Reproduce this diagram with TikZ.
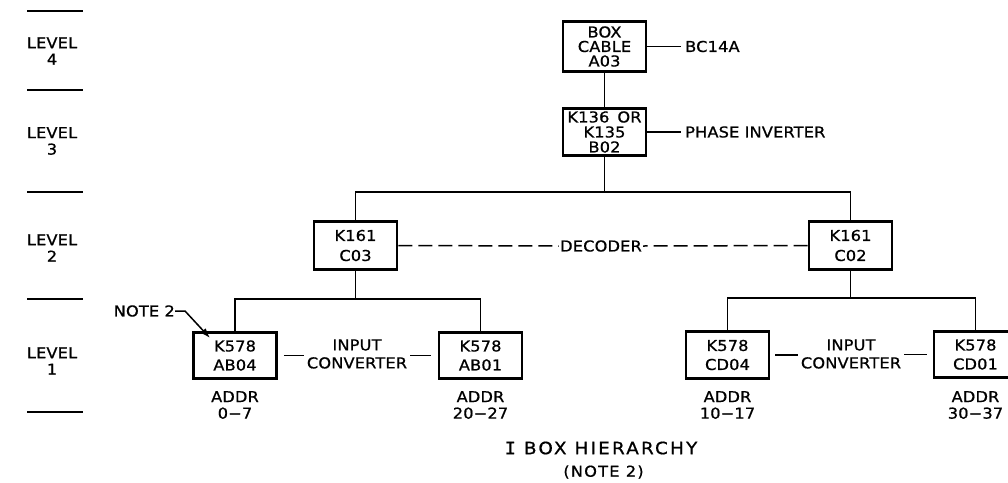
\documentclass[tikz,border=0pt]{standalone}
\usepackage{fontspec}
\setmainfont{DejaVu Sans}[FakeStretch=1.08,LetterSpace=1,FakeBold=0.8]
\newfontfamily\titlefont{DejaVu Sans}[FakeStretch=1.08,LetterSpace=13,FakeBold=0.8]
\newfontfamily\serifI{DejaVu Sans Mono}[FakeStretch=1.1,FakeBold=0.8]
\usetikzlibrary{arrows.meta}
\begin{document}
\begin{tikzpicture}[x=1pt,y=-1pt,
  every node/.style={font=\fontsize{15}{16.5}\selectfont, inner sep=0pt},
  box/.style={draw, line width=2.8pt, minimum width=83pt, align=center},
  lvfour/.style={box, minimum height=50.5pt, font=\fontsize{15}{14.5}\selectfont},
  lvthree/.style={box, minimum height=47.5pt, font=\fontsize{15}{15}\selectfont},
  lvtwo/.style={box, minimum height=48.5pt, font=\fontsize{15}{20}\selectfont},
  lvone/.style={box, minimum height=46.5pt, font=\fontsize{15}{19}\selectfont},
  conn/.style={line width=1.5pt},
  sepline/.style={line width=2pt},
  lvlabel/.style={align=center, font=\fontsize{15}{16.5}\selectfont},
  twoline/.style={align=center, font=\fontsize{15}{18}\selectfont, inner xsep=3pt},
  addr/.style={align=center, font=\fontsize{15}{16.5}\selectfont},
  sidelabel/.style={anchor=west, inner xsep=4pt}
]
\fill[white] (0,0) rectangle (1008,482);
\useasboundingbox (0,0) rectangle (1008,482);

% level separators and labels
\foreach \yy in {11,90,192,299,412} \draw[sepline] (27,\yy) -- (83,\yy);
\node[lvlabel] (lv4) at (52,51) {LEVEL\\4};
\node[lvlabel] (lv3) at (52,141) {LEVEL\\3};
\node[lvlabel] (lv2) at (52,248) {LEVEL\\2};
\node[lvlabel] (lv1) at (52,361) {LEVEL\\1};

% boxes
\node[lvfour] (b4) at (604.5,46.5) {BOX\\CABLE\\A03};
\node[lvthree] (b3) at (604.5,132) {K136\hspace{8pt}OR\\K135\\B02};
\node[lvtwo] (c03) at (355.5,245.5) {K161\\C03};
\node[lvtwo] (c02) at (850.5,245.5) {K161\\C02};
\node[lvone] (ab04) at (235,355.5) {K578\\AB04};
\node[lvone] (ab01) at (480.5,355.5) {K578\\AB01};
\node[lvone] (cd04) at (727.5,355) {K578\\CD04};
\node[lvone] (cd01) at (975.5,354.5) {K578\\CD01};

% side labels
\node[sidelabel] (bc) at (681,46.5) {BC14A};
\node[sidelabel] (pi) at (681,132) {PHASE INVERTER};
\draw[conn] (b4.east) -- (bc.west);
\draw[conn] (b3.east) -- (pi.west);

% tree connectors
\draw[conn] (b4.south) -- (b3.north);
\coordinate (j3) at (604.5,192);
\draw[conn] (b3.south) -- (j3);
\draw[conn] (c03.north) |- (j3) -| (c02.north);
\coordinate (j2l) at (355.5,299);
\draw[conn] (c03.south) -- (j2l);
\draw[conn] (ab04.north) |- (j2l) -| (ab01.north);
\coordinate (j2r) at (850.5,298);
\draw[conn] (c02.south) -- (j2r);
\draw[conn] (cd04.north) |- (j2r) -| (cd01.north);

% decoder
\node[inner xsep=1pt] (dec) at (601,246) {DECODER};
\draw[conn, dash pattern=on 14pt off 6pt] (c03.east) -- (dec.west);
\draw[conn, dash pattern=on 14pt off 6pt] (c02.west) -- (dec.east);

% input converters
\node[twoline] (ic1) at (357,354) {INPUT\\CONVERTER};
\draw[conn, shorten <=6pt] (ab04.east) -- (ab04.east -| ic1.west);
\draw[conn, shorten <=7pt] (ab01.west) -- (ab01.west -| ic1.east);
\node[twoline] (ic2) at (851,354) {INPUT\\CONVERTER};
\draw[conn, shorten <=5pt] (cd04.east) -- (cd04.east -| ic2.west);
\draw[conn, shorten <=6pt] (cd01.west) -- (cd01.west -| ic2.east);

% address labels
\node[addr] (ad1) at (235,405) {ADDR\\0−7};
\node[addr] (ad2) at (480.5,405) {ADDR\\20−27};
\node[addr] (ad3) at (727.5,405) {ADDR\\10−17};
\node[addr] (ad4) at (975.5,405) {ADDR\\30−37};

% note 2
\node[anchor=east] (n2) at (175,311) {NOTE 2};
\coordinate (n2tip) at (210,338);
\draw[conn, -{Latex[length=10pt,width=7pt]}] (n2.east) -- ++(10,0) -- (n2tip);

% title
\node[font={\titlefont\fontsize{17}{18}\selectfont}] (title) at (601,448) {{\serifI I} BOX HIERARCHY};
\node[font={\fontsize{15}{18}\selectfont\addfontfeature{LetterSpace=8}}] (note) at (603.5,472) {(NOTE 2)};
\end{tikzpicture}
\end{document}
